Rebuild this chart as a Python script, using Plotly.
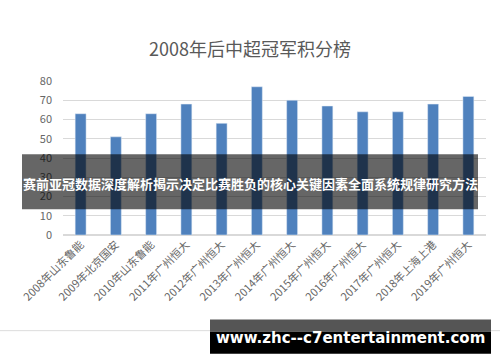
import plotly.graph_objects as go

categories = ["2008年山东鲁能", "2009年北京国安", "2010年山东鲁能", "2011年广州恒大",
              "2012年广州恒大", "2013年广州恒大", "2014年广州恒大", "2015年广州恒大",
              "2016年广州恒大", "2017年广州恒大", "2018年上海上港", "2019年广州恒大"]
points = [63, 51, 63, 68, 58, 77, 70, 67, 64, 64, 68, 72]
y_ticks = [0, 10, 20, 30, 40, 50, 60, 70, 80]

W, H = 500, 362
L, R, T, B = 63, 486, 81, 234.6

def px(x):
    return (x - L) / (R - L)

def py(y):
    return (B - y) / (B - T)

fig = go.Figure(go.Bar(x=categories, y=points, marker_color="#4F81BD", width=0.31))

FONT = "Noto Sans CJK SC, sans-serif"
fig.update_layout(
    width=W, height=H,
    margin=dict(l=L, r=W - R, t=T, b=H - B, pad=0),
    paper_bgcolor="white", plot_bgcolor="white",
    showlegend=False,
    font=dict(family=FONT, color="#595959", size=11),
    title=dict(text="2008年后中超冠军积分榜", x=0.5, xref="container", xanchor="center",
               y=1 - 50 / H, yanchor="middle",
               font=dict(size=18, color="#595959", family=FONT)),
    xaxis=dict(tickangle=-45, showgrid=False, showline=False, ticks="",
               tickfont=dict(size=11, color="#666666")),
    yaxis=dict(range=[0, 80], tickvals=y_ticks, showgrid=True, gridcolor="#d9d9d9",
               zeroline=True, zerolinecolor="#d9d9d9", ticks="", ticklabelstandoff=10,
               tickfont=dict(size=11, color="#666666")),
    bargap=0.69,
)

shapes = [
    dict(type="line", xref="paper", yref="paper", x0=px(0), x1=px(500), y0=py(330), y1=py(330),
         line=dict(color="#dddddd", width=1), layer="below"),
    dict(type="rect", xref="paper", yref="paper", x0=px(22), x1=px(478), y0=py(209), y1=py(154),
         fillcolor="rgba(0,0,0,0.6)", line=dict(width=0), layer="above"),
    dict(type="rect", xref="paper", yref="paper", x0=px(210), x1=px(491), y0=py(331), y1=py(319),
         fillcolor="#555555", line=dict(width=0), layer="above"),
    dict(type="rect", xref="paper", yref="paper", x0=px(210), x1=px(491), y0=py(353), y1=py(331),
         fillcolor="#000000", line=dict(width=0), layer="above"),
]
fig.update_layout(shapes=shapes)

fig.add_annotation(text="<b>赛前亚冠数据深度解析揭示决定比赛胜负的核心关键因素全面系统规律研究方法</b>",
                   xref="paper", yref="paper", x=px(250), y=py(183), showarrow=False,
                   xanchor="center", yanchor="middle",
                   font=dict(size=13, color="white", family=FONT))
fig.add_annotation(text="<b>www.zhc--c7entertainment.com</b>",
                   xref="paper", yref="paper", x=px(350), y=py(337), showarrow=False,
                   xanchor="center", yanchor="middle",
                   font=dict(size=15, color="white", family="DejaVu Sans, sans-serif"))

fig.write_html("out.html")
